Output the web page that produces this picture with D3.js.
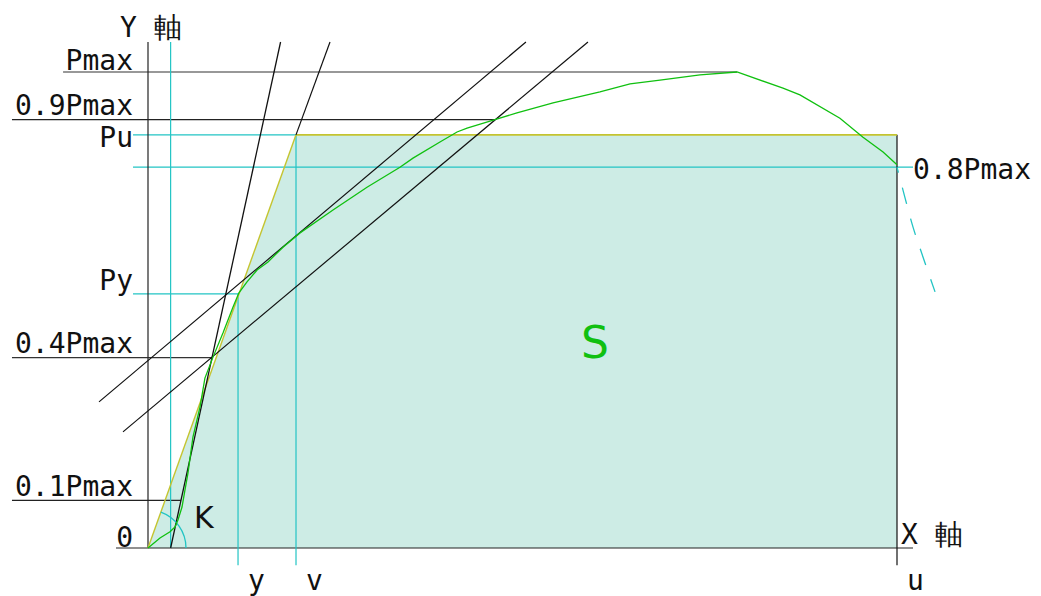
<!DOCTYPE html>
<html>
<head>
<meta charset="utf-8">
<script src="https://cdn.jsdelivr.net/npm/d3@7"></script>
<style>
  body { margin: 0; background: #fff; }
  text { font-family: "DejaVu Sans Mono", monospace; font-size: 28px; fill: #111; }
</style>
</head>
<body>
<div id="chart"></div>
<script>
// displacement in mm, load as ratio P / Pmax
var Pmax = 1.0, Pu = 0.868, Py = 0.534;
var dy = 6.01, dv = 9.88, du = 50;
var x0 = 1.51;  // where the 0.1-0.4 secant meets the X axis

// measured load-displacement curve
var curveX = [0, 0.80, 1.47, 1.80, 2.00, 2.27, 2.47, 2.67, 3.00, 3.47, 3.80, 4.34, 5.01, 5.67, 6.07,
  6.61, 7.28, 8.01, 9.01, 10.15, 12.35, 14.62, 16.82, 17.69, 19.49, 20.63, 21.30, 23.16, 24.63,
  27.04, 30.17, 32.18, 34.18, 36.85, 39.32, 42.39, 43.52, 46.19, 47.73, 49.07, 50.00];
var curveY = [0, 0.021, 0.034, 0.044, 0.059, 0.086, 0.122, 0.158, 0.233, 0.296, 0.357, 0.401, 0.452, 0.506, 0.536,
  0.559, 0.584, 0.601, 0.632, 0.662, 0.710, 0.758, 0.800, 0.819, 0.853, 0.874, 0.882, 0.900, 0.914,
  0.935, 0.958, 0.975, 0.983, 0.994, 1.000, 0.966, 0.952, 0.903, 0.863, 0.832, 0.805];
// dashed continuation after 0.8Pmax
var tailX = [50.0, 50.40, 51.07, 51.74, 52.54];
var tailY = [0.80, 0.752, 0.674, 0.611, 0.538];

// construction lines [x1, y1, x2, y2]
var secant = [x0, 0, 8.85, 1.063];
var stiffLine = [0, 0, dv, Pu];
var stiffExt = [dv, Pu, 12.15, 1.063];
var tangentA = [-3.27, 0.307, 25.23, 1.063];
var tangentB = [-1.67, 0.244, 29.37, 1.063];

// horizontal levels: [y, xStart, xEnd, colour]
var hLines = [
  [Pmax, -5.67, 39.32, "#333"],
  [0.9, -9.08, 23.16, "#222"],
  [Pu, -1.0, dv, "#22c4c4"],
  [0.8, -1.0, 51.07, "#22c4c4"],
  [Py, -1.0, dy, "#22c4c4"],
  [0.4, -9.08, 4.27, "#333"],
  [0.1, -9.08, 2.20, "#222"],
  [0, -2.14, 51.07, "#222"]
];
// vertical lines: [x, yStart, yEnd, colour]
var vLines = [
  [0, 0, 1.063, "#222"],
  [x0, 0, 1.063, "#22c4c4"],
  [dy, -0.036, Py, "#22c4c4"],
  [dv, -0.036, Pu, "#22c4c4"],
  [du, -0.036, Pu, "#111"]
];

var leftLabels = ["Pmax", "0.9Pmax", "Pu", "Py", "0.4Pmax", "0.1Pmax", "0"];
var leftLevels = [Pmax, 0.9, Pu, Py, 0.4, 0.1, 0];
var leftShift = [-2, -5, 12, -4, -5, -4, -1];
var bottomLabels = ["y", "v", "u"];
var bottomPos = [dy, dv, du];

var W = 1041, H = 596;
var svg = d3.select("#chart").append("svg")
  .attr("width", W).attr("height", H);

var x = d3.scaleLinear().domain([0, 50]).range([148, 897]);
var y = d3.scaleLinear().domain([0, 1]).range([548, 72]);

// shaded energy area S
var area = [[0, 0], [dv, Pu], [du, Pu], [du, 0]];
svg.append("path")
  .attr("d", d3.line().x(function (d) { return x(d[0]); }).y(function (d) { return y(d[1]); })(area) + "Z")
  .attr("fill", "#cdece5");

function seg(s, colour, w) {
  svg.append("line")
    .attr("x1", x(s[0])).attr("y1", y(s[1]))
    .attr("x2", x(s[2])).attr("y2", y(s[3]))
    .attr("stroke", colour).attr("stroke-width", w || 1.2);
}

hLines.forEach(function (h) { seg([h[1], h[0], h[2], h[0]], h[3]); });
vLines.forEach(function (v) { seg([v[0], v[1], v[0], v[2]], v[3]); });

// yellow elastic line and top edge of S
seg(stiffLine, "#c4c430", 1.4);
seg([dv, Pu, du, Pu], "#c4c430", 1.6);
seg(stiffExt, "#111");
seg(secant, "#111", 1.3);
seg(tangentA, "#111");
seg(tangentB, "#111");

// arc for angle K
var arc = d3.arc().innerRadius(38).outerRadius(38)
  .startAngle(Math.atan2(x(dv) - x(0), y(0) - y(Pu))).endAngle(Math.PI / 2);
svg.append("path")
  .attr("transform", "translate(" + x(0) + "," + y(0) + ")")
  .attr("d", arc())
  .attr("fill", "none").attr("stroke", "#22c4c4").attr("stroke-width", 1.3);

var line = d3.line()
  .x(function (d) { return x(d[0]); })
  .y(function (d) { return y(d[1]); });

svg.append("path")
  .datum(d3.zip(curveX, curveY))
  .attr("fill", "none").attr("stroke", "#10c010").attr("stroke-width", 1.3)
  .attr("d", line);

svg.append("path")
  .datum(d3.zip(tailX, tailY))
  .attr("fill", "none").attr("stroke", "#22c4c4").attr("stroke-width", 1.3)
  .attr("stroke-dasharray", "17,15")
  .attr("stroke-dashoffset", 11)
  .attr("d", d3.line().curve(d3.curveCatmullRom)
    .x(function (d) { return x(d[0]); })
    .y(function (d) { return y(d[1]); }));

// labels
leftLabels.forEach(function (t, i) {
  svg.append("text")
    .attr("x", 133).attr("y", y(leftLevels[i]) + leftShift[i])
    .attr("text-anchor", "end")
    .text(t);
});
bottomLabels.forEach(function (t, i) {
  svg.append("text")
    .attr("x", x(bottomPos[i]) + 10).attr("y", 590)
    .text(t);
});
svg.append("text").attr("x", x(du) + 16).attr("y", y(0.8) + 12).text("0.8Pmax");
svg.append("text").attr("x", 120).attr("y", 37).text("Y 軸");
svg.append("text").attr("x", 901).attr("y", 544).text("X 軸");
svg.append("text").attr("x", 194).attr("y", 528)
  .style("font-family", "DejaVu Sans").style("font-size", "30px").text("K");
svg.append("text").attr("x", 595).attr("y", 358).attr("text-anchor", "middle")
  .style("font-family", "DejaVu Sans").style("font-size", "44px").style("fill", "#10c010").text("S");
</script>
</body>
</html>
